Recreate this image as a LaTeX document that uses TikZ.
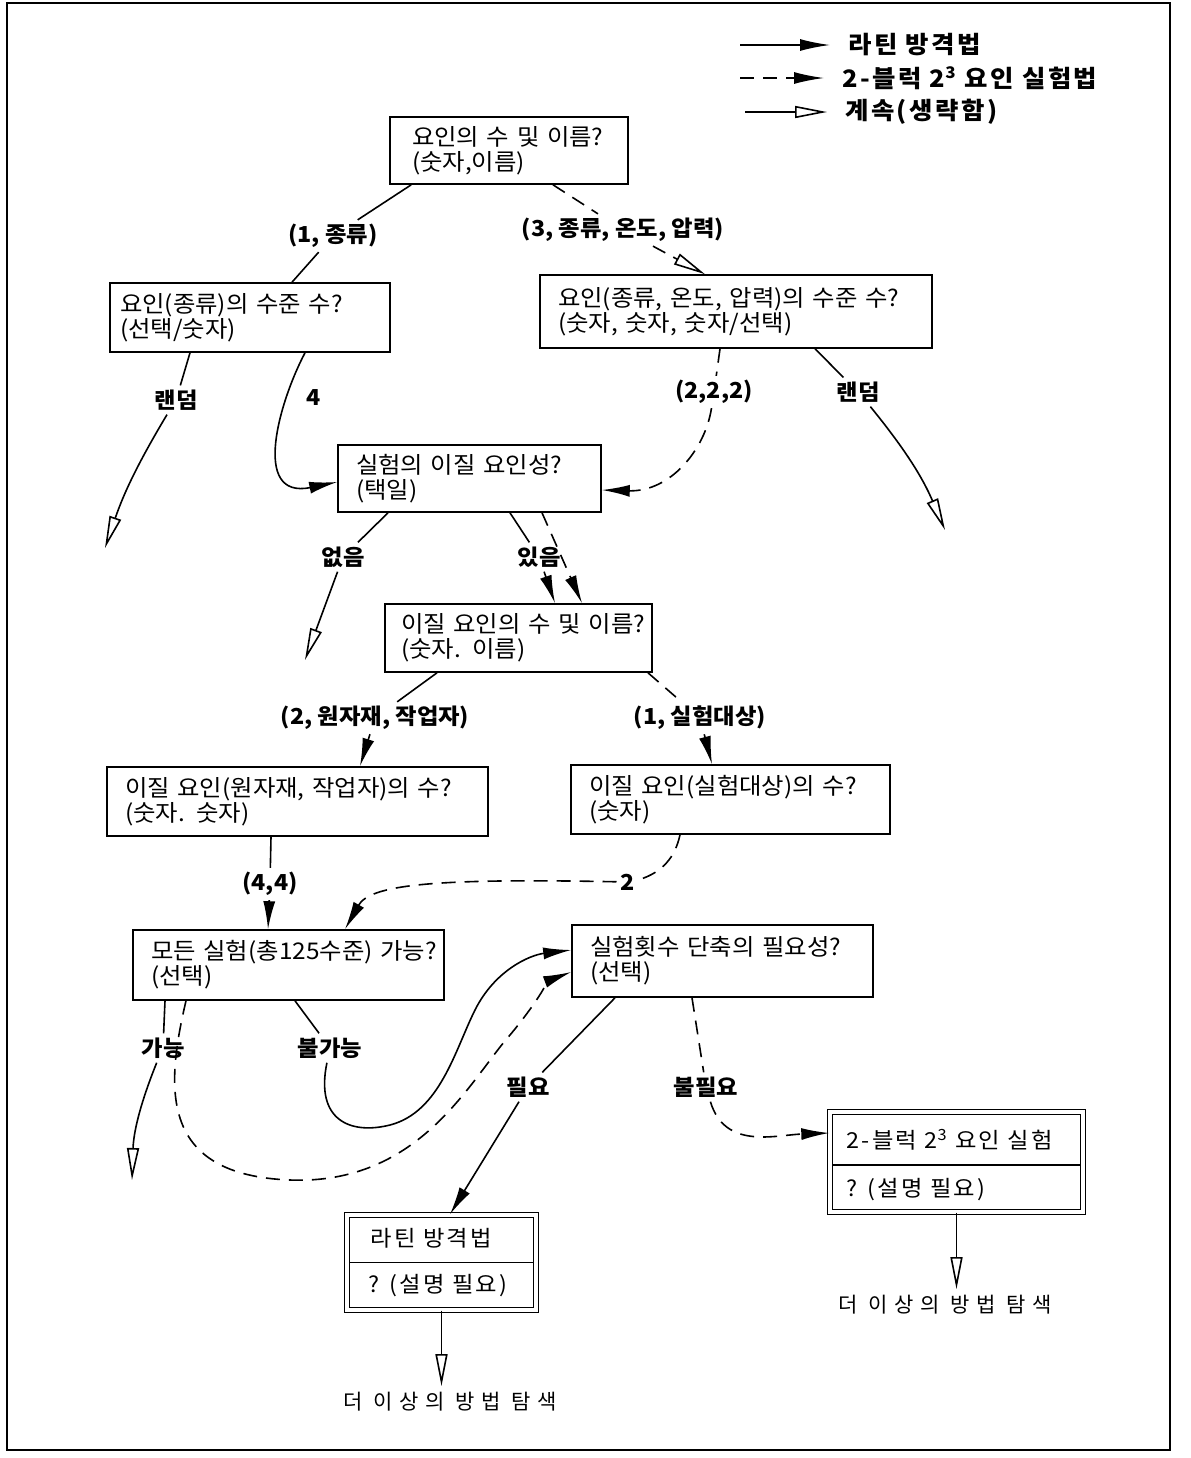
\documentclass[tikz,border=0pt]{standalone}
\usepackage{fontspec}
\setmainfont{Noto Sans CJK KR}[FakeStretch=1.06]
\newfontfamily\lgfont{Noto Sans CJK KR}[FakeStretch=1.06,LetterSpace=10]
\newfontfamily\endfont{Noto Sans CJK KR}[LetterSpace=30]
\usetikzlibrary{arrows.meta,calc}
\tikzset{
 qbox/.style={draw, line width=0.8pt, align=left, inner xsep=9pt, inner ysep=3pt, font=\fontsize{11.5}{12.5}\selectfont},
 dbox/.style={draw, double, double distance=2pt, line width=0.7pt, inner sep=0pt},
 lbl/.style={font=\bfseries\fontsize{11}{12}\selectfont, inner sep=2pt},
 btxt/.style={font=\lgfont\fontsize{11}{12}\selectfont, anchor=west, inner sep=0pt},
 lgt/.style={font=\lgfont\bfseries\fontsize{12}{12}\selectfont, anchor=west, inner xsep=9pt, inner ysep=2pt},
 endtxt/.style={font=\endfont\fontsize{10.5}{12}\selectfont, inner sep=3pt},
 ln/.style={line width=0.8pt},
 dl/.style={line width=0.8pt, dash pattern=on 7pt off 4.5pt},
 fa/.style={-{Latex[length=14pt,width=6pt]}},
 oa/.style={-{Triangle[open,length=16pt,width=6pt]}},
}
\begin{document}
\begin{tikzpicture}[x=0.5pt,y=-0.5pt]
\useasboundingbox (0,0) rectangle (1190,1458);
\draw[line width=0.6pt] (7,3) rectangle (1170,1450);

% legend
\coordinate (g1) at (740,45);
\node[lgt] (lg1) at (830,45) {라틴 방격법};
\draw[ln,-{Latex[length=15pt,width=6pt]}] (g1) -- (lg1.west);
\coordinate (g2) at (740,78);
\node[lgt] (lg2) at (824,78) {2-블럭 2\textsuperscript{3} 요인 실험법};
\draw[dl,-{Latex[length=15pt,width=6pt]}] (g2) -- (lg2.west);
\coordinate (g3) at (745,112);
\node[lgt] (lg3) at (827,112) {계속(생략함)};
\draw[ln,oa] (g3) -- (lg3.west);

% boxes
\node[qbox, inner xsep=11pt, text width=97pt, minimum height=33.5pt] (b1) at (509,150.5) {\mbox{요인의 수 및 이름?}\\\mbox{(숫자,이름)}};
\node[qbox, inner xsep=5pt, text width=130pt, minimum height=34.5pt] (b2) at (250,317.5) {\mbox{요인(종류)의 수준 수?}\\\mbox{(선택/숫자)}};
\node[qbox, text width=178pt, minimum height=36.5pt] (b3) at (736,311.5) {\mbox{요인(종류, 온도, 압력)의 수준 수?}\\\mbox{(숫자, 숫자, 숫자/선택)}};
\node[qbox, text width=113.5pt, minimum height=33.5pt] (b4) at (469.5,478.5) {\mbox{실험의 이질 요인성?}\\\mbox{(택일)}};
\node[qbox, inner xsep=8pt, text width=117.5pt, minimum height=34pt] (b5) at (518.5,638) {\mbox{이질 요인의 수 및 이름?}\\\mbox{(숫자. 이름)}};
\node[qbox, text width=172.5pt, minimum height=34.5pt] (b6) at (297.5,801.5) {\mbox{이질 요인(원자재, 작업자)의 수?}\\\mbox{(숫자. 숫자)}};
\node[qbox, text width=141.5pt, minimum height=34.5pt] (b7) at (730.5,799.5) {\mbox{이질 요인(실험대상)의 수?}\\\mbox{(숫자)}};
\node[qbox, text width=137.5pt, minimum height=35pt] (b8) at (288.5,965) {\mbox{모든 실험(총125수준) 가능?}\\\mbox{(선택)}};
\node[qbox, text width=132.5pt, minimum height=36pt] (b9) at (722.5,961) {\mbox{실험횟수 단축의 필요성?}\\\mbox{(선택)}};

\node[dbox, minimum width=94.5pt, minimum height=47.5pt] (b10) at (441.5,1262.5) {};
\draw[ln] ([xshift=1.35pt]b10.west) -- ([xshift=-1.35pt]b10.east);
\node[btxt] (b10a) at ($(b10.west)+(24,-24)$) {라틴 방격법};
\node[btxt] (b10b) at ($(b10.west)+(22,23)$) {? (설명 필요)};

\node[dbox, minimum width=126.5pt, minimum height=50pt] (b11) at (956.5,1162) {};
\draw[ln] ([xshift=1.35pt,yshift=-1.5pt]b11.west) -- ([xshift=-1.35pt,yshift=-1.5pt]b11.east);
\node[btxt] (b11a) at ($(b11.west)+(17,-22)$) {2-블럭 2\textsuperscript{3} 요인 실험};
\node[btxt] (b11b) at ($(b11.west)+(17,28)$) {? (설명 필요)};

% labels
\node[lbl] (l1) at (333,236) {(1, 종류)};
\node[lbl] (l2) at (623,230) {(3, 종류, 온도, 압력)};
\node[lbl] (l3) at (176,400) {랜덤};
\node[lbl] (l4) at (314,398) {4};
\node[lbl] (l5) at (714,392) {(2,2,2)};
\node[lbl] (l6) at (858,392) {랜덤};
\node[lbl] (l7) at (343,557) {없음};
\node[lbl] (l8) at (539,557) {있음};
\node[lbl] (l9) at (375,718) {(2, 원자재, 작업자)};
\node[lbl] (l10) at (700,718) {(1, 실험대상)};
\node[lbl] (l11) at (270,884) {(4,4)};
\node[lbl] (l12) at (628,882) {2};
\node[lbl] (l13) at (163,1048) {가능};
\node[lbl] (l14) at (330,1048) {불가능};
\node[lbl] (l15) at (528,1087) {필요};
\node[lbl] (l16) at (706,1087) {불필요};
\node[endtxt] (t1) at (450,1402) {더 이상의 방법 탐색};
\node[endtxt] (t2) at (945,1305) {더 이상의 방법 탐색};

% free ends
\coordinate (e3) at (105,548);
\coordinate (e6) at (945,530);
\coordinate (e7) at (305,660);
\coordinate (e13) at (132,1180);

% connectors
\draw[ln] ([xshift=11pt]b1.south west) -- (l1);
\draw[ln] (l1) -- ([xshift=21pt]b2.north);
\draw[dl] ([xshift=22pt]b1.south) -- (l2);
\draw[dl,oa] (l2) -- ([xshift=-15.5pt]b3.north);

\draw[ln] ([xshift=-30pt]b2.south) -- (l3);
\draw[ln,oa] (l3) to[bend right=6] (e3);
\draw[ln,fa] ([xshift=27.5pt]b2.south) .. controls (280,400) and (250,500) .. ([yshift=-1.75pt]b4.west);

\draw[dl] ([xshift=-8pt]b3.south) -- (l5);
\draw[dl,fa] (l5) .. controls (705,450) and (670,492) .. ([yshift=-5.75pt]b4.east);
\draw[ln] ([xshift=39.5pt]b3.south) -- (l6);
\draw[ln,oa] (l6) to[bend left=8] (e6);

\draw[ln] ([xshift=-40.75pt]b4.south) -- (l7);
\draw[ln,oa] (l7) -- (e7);
\draw[ln] ([xshift=20.25pt]b4.south) -- (l8);
\draw[ln,fa] (l8) -- ([xshift=18.25pt]b5.north);
\draw[dl,fa] ([xshift=36.25pt]b4.south) -- ([xshift=31.75pt]b5.north);

\draw[ln] ([xshift=-40.75pt]b5.south) -- (l9);
\draw[ln,fa] (l9) -- ([xshift=31.25pt]b6.north);
\draw[dl] ([xshift=64.75pt]b5.south) -- (l10);
\draw[dl,fa] (l10) -- ([xshift=-9.25pt]b7.north);

\draw[ln] ([xshift=-13.25pt]b6.south) -- (l11);
\draw[ln,fa] (l11) -- ([xshift=-10.25pt]b8.north);
\draw[dl] ([xshift=-25.25pt]b7.south) to[bend left=30] (l12);
\draw[dl,fa] (l12) .. controls (430,878) and (370,885) .. ([xshift=28.25pt]b8.north);

\draw[ln] ([xshift=-61.75pt]b8.south) -- (l13);
\draw[ln,oa] (l13) to[bend right=10] (e13);
\draw[dl,fa] ([xshift=-51.25pt]b8.south) .. controls (165,1090) and (160,1175) .. (290,1180)
  .. controls (420,1185) and (470,1080) .. (510,1035)
  .. controls (535,1005) and (550,980) .. ([yshift=-5.5pt]b9.west);
\draw[ln] ([xshift=3.25pt]b8.south) -- (l14);
\draw[ln,fa] (l14) .. controls (315,1120) and (350,1135) .. (390,1125)
  .. controls (440,1112) and (455,1050) .. (475,1010)
  .. controls (495,970) and (530,955) .. ([yshift=5.5pt]b9.west);

\draw[ln] ([xshift=-53.75pt]b9.south) -- (l15);
\draw[ln,fa] (l15) -- ([xshift=4.25pt]b10.north);
\draw[dl] ([xshift=-15.25pt]b9.south) -- (l16);
\draw[dl,fa] (l16) .. controls (725,1150) and (775,1135) .. ([yshift=14.5pt]b11.west);

\draw[ln,oa] (b10.south) -- (b10.south |- t1.north);
\draw[ln,oa] (b11.south) -- (b11.south |- t2.north);
\end{tikzpicture}
\end{document}
